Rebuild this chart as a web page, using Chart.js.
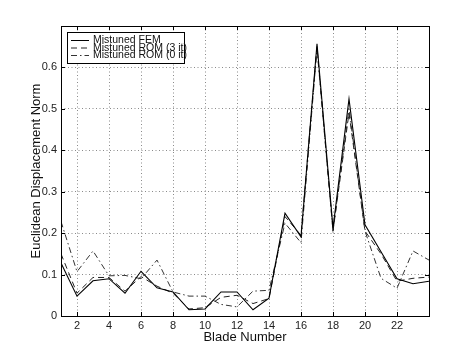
<!DOCTYPE html>
<html>
<head>
<meta charset="utf-8">
<script src="https://cdn.jsdelivr.net/npm/chart.js"></script>
<style>
  body { margin: 0; background: #fff; }
</style>
</head>
<body>
<canvas id="myChart" width="474" height="355"></canvas>
<script>
// values
var blades = [1, 2, 3, 4, 5, 6, 7, 8, 9, 10, 11, 12, 13, 14, 15, 16, 17, 18, 19, 20, 21, 22, 23, 24];
var femValues = [0.128, 0.048, 0.085, 0.090, 0.055, 0.108, 0.068, 0.058, 0.015, 0.017, 0.058, 0.058,
                 0.015, 0.043, 0.248, 0.191, 0.657, 0.212, 0.524, 0.220, 0.155, 0.090, 0.078, 0.084];
var rom3Values = [0.150, 0.055, 0.093, 0.093, 0.060, 0.095, 0.072, 0.055, 0.017, 0.020, 0.045, 0.050,
                  0.030, 0.042, 0.240, 0.195, 0.650, 0.205, 0.490, 0.205, 0.150, 0.084, 0.091, 0.094];
var rom0Values = [0.228, 0.107, 0.157, 0.097, 0.098, 0.090, 0.135, 0.058, 0.048, 0.048, 0.028, 0.022,
                  0.060, 0.062, 0.224, 0.177, 0.645, 0.205, 0.500, 0.205, 0.091, 0.067, 0.157, 0.135];
var xTicks = [2, 4, 6, 8, 10, 12, 14, 16, 18, 20, 22];
var yTicks = [0, 0.1, 0.2, 0.3, 0.4, 0.5, 0.6];

function points(vals) {
  return blades.map(function (b, i) { return { x: b, y: vals[i] }; });
}

// box, inward tick marks and the little legend, matlab style
var frame = {
  id: 'frame',
  afterDatasetsDraw: function (chart) {
    var c = chart.ctx, a = chart.chartArea;
    var xs = chart.scales.x, ys = chart.scales.y;
    c.save();
    c.strokeStyle = '#000';
    c.lineWidth = 1;
    c.setLineDash([]);
    c.beginPath();
    xTicks.forEach(function (t) {
      var px = Math.round(xs.getPixelForValue(t)) + 0.5;
      c.moveTo(px, a.bottom); c.lineTo(px, a.bottom - 4);
      c.moveTo(px, a.top); c.lineTo(px, a.top + 4);
    });
    yTicks.forEach(function (t) {
      var py = Math.round(ys.getPixelForValue(t)) + 0.5;
      c.moveTo(a.left, py); c.lineTo(a.left + 4, py);
      c.moveTo(a.right, py); c.lineTo(a.right - 4, py);
    });
    c.stroke();
    c.strokeRect(Math.round(a.left) + 0.5, Math.round(a.top) + 0.5,
                 Math.round(a.right - a.left), Math.round(a.bottom - a.top));

    // legend
    var lx = 67.5, ly = 32.5, lw = 117, lh = 31;
    c.fillStyle = '#fff';
    c.fillRect(lx, ly, lw, lh);
    c.strokeRect(lx, ly, lw, lh);
    c.font = '10.5px "Liberation Sans", Arial, sans-serif';
    c.textBaseline = 'middle';
    chart.data.datasets.forEach(function (ds, i) {
      var yy = 40.5 + i * 7.5;
      c.strokeStyle = ds.borderColor;
      c.setLineDash(ds.borderDash || []);
      c.beginPath();
      c.moveTo(71, yy); c.lineTo(89, yy);
      c.stroke();
      c.fillStyle = '#111';
      c.fillText(ds.label, 93, yy);
    });
    c.restore();
  }
};

var ctx = document.getElementById('myChart');
var myChart = new Chart(ctx, {
  type: 'line',
  data: {
    datasets: [{
      label: 'Mistuned FEM',
      data: points(femValues),
      borderColor: '#000',
      borderWidth: 1.1,
      pointRadius: 0,
      tension: 0
    }, {
      label: 'Mistuned ROM (3 it)',
      data: points(rom3Values),
      borderColor: '#222',
      borderWidth: 1,
      borderDash: [6, 4],
      pointRadius: 0,
      tension: 0
    }, {
      label: 'Mistuned ROM (0 it)',
      data: points(rom0Values),
      borderColor: '#333',
      borderWidth: 1,
      borderDash: [6, 3, 1.5, 3],
      pointRadius: 0,
      tension: 0
    }]
  },
  options: {
    responsive: false,
    animation: false,
    layout: { padding: { top: 26, right: 45, left: 0, bottom: 0 } },
    plugins: { legend: { display: false }, tooltip: { enabled: false } },
    scales: {
      x: {
        type: 'linear',
        min: 1,
        max: 24,
        afterBuildTicks: function (s) { s.ticks = xTicks.map(function (v) { return { value: v }; }); },
        afterFit: function (s) { s.height = 39; },
        grid: { color: '#8a8a8a', lineWidth: 1, drawTicks: false },
        border: { display: false, dash: [1, 2.5] },
        ticks: {
          padding: 3,
          color: '#222',
          font: { family: '"Liberation Sans", Arial, sans-serif', size: 11 }
        },
        title: {
          display: true,
          text: 'Blade Number',
          color: '#111',
          padding: { top: 0, bottom: 10 },
          font: { family: '"Liberation Sans", Arial, sans-serif', size: 13 }
        }
      },
      y: {
        min: 0,
        max: 0.7,
        afterBuildTicks: function (s) { s.ticks = yTicks.map(function (v) { return { value: v }; }); },
        afterFit: function (s) { s.width = 61; },
        grid: { color: '#8a8a8a', lineWidth: 1, drawTicks: false },
        border: { display: false, dash: [1, 2.5] },
        ticks: {
          padding: 4,
          color: '#222',
          font: { family: '"Liberation Sans", Arial, sans-serif', size: 11 },
          callback: function (v) { return v === 0 ? '0' : v.toFixed(1); }
        },
        title: {
          display: true,
          text: 'Euclidean Displacement Norm',
          color: '#111',
          padding: { top: 29, bottom: 0 },
          font: { family: '"Liberation Sans", Arial, sans-serif', size: 13 }
        }
      }
    }
  },
  plugins: [frame]
});
</script>
</body>
</html>
